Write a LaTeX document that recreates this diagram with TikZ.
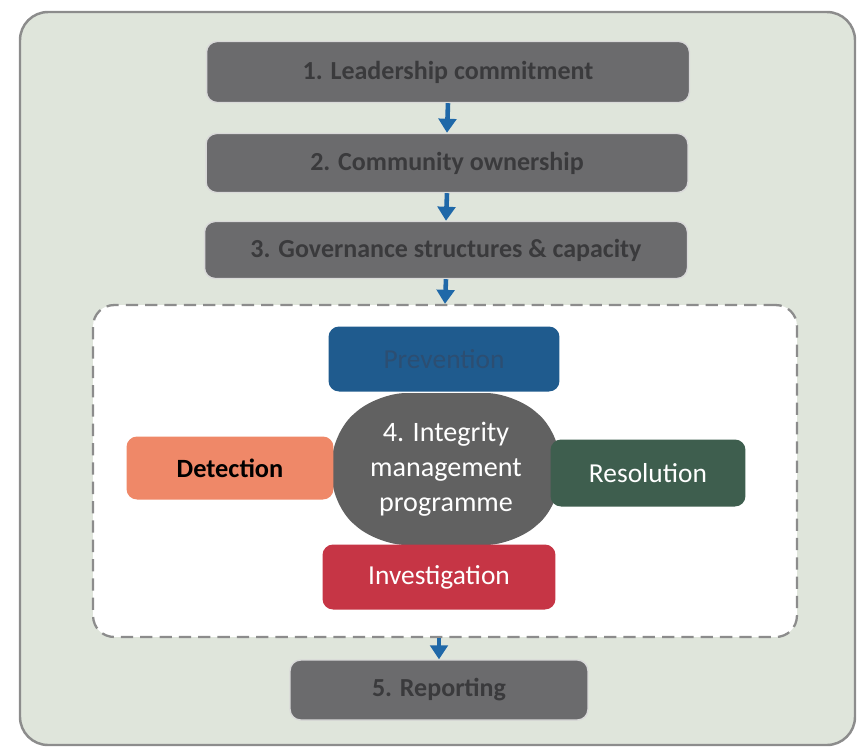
\documentclass[tikz,border=0pt]{standalone}
\usepackage{fontspec}
\setmainfont{Carlito}
\usetikzlibrary{arrows.meta}

\definecolor{panel}{HTML}{DFE5DB}
\definecolor{stepgray}{HTML}{6B6B6D}
\definecolor{steptext}{HTML}{3A3A3C}
\definecolor{arrowblue}{HTML}{1F68A8}
\definecolor{prevblue}{HTML}{1F5B8E}
\definecolor{prevtext}{HTML}{2C4E72}
\definecolor{detorange}{HTML}{EF8868}
\definecolor{resgreen}{HTML}{3E5E4E}
\definecolor{invred}{HTML}{C63545}
\definecolor{coregray}{HTML}{616161}

\tikzset{
    stepbox/.style={draw=white!85!black, line width=0.8pt, fill=stepgray, rounded corners=6pt,
        text=steptext, font=\fontsize{14.8}{16}\selectfont\bfseries, inner sep=0pt},
    partbox/.style={rounded corners=6pt, inner sep=0pt, font=\fontsize{15.6}{17}\selectfont},
    flow/.style={arrowblue, line width=2.6pt, -{Triangle[length=8pt,width=10pt]}}
}

\begin{document}
\begin{tikzpicture}[x=0.02cm,y=0.02cm]
        \useasboundingbox (0,0) rectangle (862,-751);
        \draw[rounded corners=16pt, fill=panel, draw=black!45, line width=1.4pt] (20,-12) rectangle (855,-745);

        % steps before the programme
        \node[stepbox, minimum width=9.66cm, minimum height=1.22cm] (b1) at (448,-72) {1. Leadership commitment};
        \node[stepbox, minimum width=9.64cm, minimum height=1.18cm] (b2) at (447,-163) {2. Community ownership};
        \node[stepbox, minimum width=9.66cm, minimum height=1.14cm] (b3) at (446,-250) {3. Governance structures \& capacity};

        % integrity management programme
        \node[draw=black!45, dashed, dash pattern=on 7pt off 4pt, line width=1.3pt, fill=white, rounded corners=12pt,
              minimum width=14.08cm, minimum height=6.64cm] (imp) at (445,-471) {};
        \fill[coregray, rounded corners=16pt] (378,-393) -- (514,-393) -- (560,-433) -- (560,-505)
            -- (514,-545) -- (378,-545) -- (332,-505) -- (332,-433) -- cycle;
        \node[text=white, inner sep=0pt, align=center, font=\fontsize{16}{20}\selectfont] (core) at (446,-469)
            {4. Integrity\\management\\programme};
        \node[partbox, fill=prevblue, text=prevtext, minimum width=4.62cm, minimum height=1.3cm] (prev) at (444,-359) {Prevention};
        \node[partbox, fill=detorange, text=black, font=\fontsize{15}{17}\selectfont\bfseries,
              minimum width=4.14cm, minimum height=1.26cm] (det) at (230,-468) {Detection};
        \node[partbox, fill=resgreen, text=white, minimum width=3.9cm, minimum height=1.34cm] (res) at (648,-473) {Resolution};
        \node[partbox, fill=invred, text=white, minimum width=4.66cm, minimum height=1.3cm] (inv) at (439,-577) {Investigation};

        % reporting
        \node[stepbox, minimum width=5.96cm, minimum height=1.2cm] (b5) at (439,-690) {5. Reporting};

        \draw[flow] (b1.south) -- (b2.north);
        \draw[flow] (b2.south) -- (b3.north);
        \draw[flow] (b3.south) -- (imp.north);
        \draw[flow] (b5.north |- imp.south) -- (b5.north);
    \end{tikzpicture}
\end{document}
